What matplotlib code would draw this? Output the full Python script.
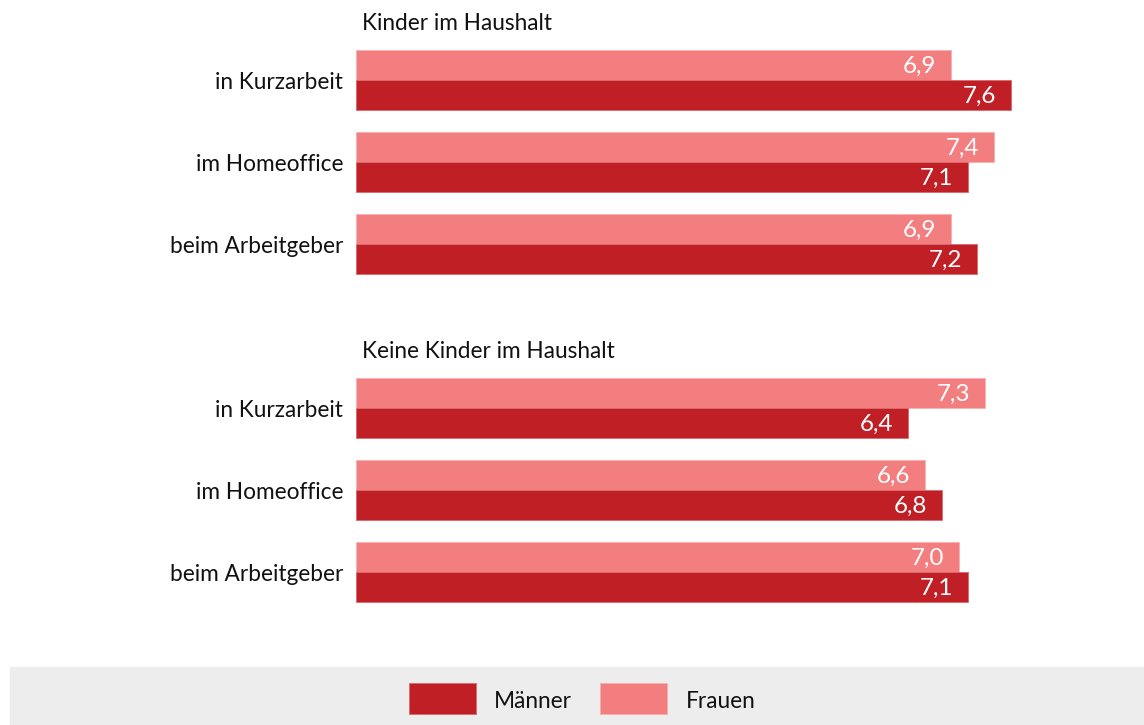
import matplotlib
matplotlib.use("Agg")
import matplotlib.pyplot as plt
from matplotlib.patches import Rectangle

plt.rcParams['font.family'] = ['Lato', 'DejaVu Sans']

groups = ["Kinder im Haushalt", "Keine Kinder im Haushalt"]
categories = ["in Kurzarbeit", "im Homeoffice", "beim Arbeitgeber"]
frauen = [[6.9, 7.4, 6.9], [7.3, 6.6, 7.0]]
maenner = [[7.6, 7.1, 7.2], [6.4, 6.8, 7.1]]

c_m = "#C01F26"
c_f = "#F37E80"

W, H = 1144, 725
fig = plt.figure(figsize=(W / 100, H / 100), dpi=100)

ax = fig.add_axes([356 / W, (H - 660) / H, (W - 356) / W, 660 / H])
px_per_unit = 86.2
ax.set_xlim(0, (W - 356) / px_per_unit)
ax.set_ylim((660 - 80) / 82, (0 - 80) / 82)
ax.axis("off")

fs_lab = 16.3
fs_val = 17.5
bh = 30 / 82
for gi, g in enumerate(groups):
    base = gi * 4
    ax.text(0.07, base - 0.69, g, fontsize=fs_lab, ha="left", va="center",
            color="#111111")
    for ci, cat in enumerate(categories):
        y = base + ci
        ax.barh(y - bh / 2, frauen[gi][ci], height=bh, color=c_f,
                edgecolor="#F8B0B1", linewidth=0.6)
        ax.barh(y + bh / 2, maenner[gi][ci], height=bh, color=c_m,
                edgecolor="#D86A6E", linewidth=0.6)
        ax.text(frauen[gi][ci] - 0.17, y - bh / 2 + 0.015,
                f"{frauen[gi][ci]:.1f}".replace(".", ","),
                color="white", fontsize=fs_val, ha="right", va="center")
        ax.text(maenner[gi][ci] - 0.17, y + bh / 2 + 0.015,
                f"{maenner[gi][ci]:.1f}".replace(".", ","),
                color="white", fontsize=fs_val, ha="right", va="center")
        ax.text(-0.15, y + 0.03, cat, fontsize=fs_lab, ha="right",
                va="center", color="#111111")

fig.patches.append(Rectangle((10 / W, 0), (W - 10) / W, (H - 667) / H,
                             transform=fig.transFigure, color="#EDEDED",
                             zorder=0))
fig.patches.append(Rectangle((409 / W, (H - 714) / H), 67 / W, 31 / H,
                             transform=fig.transFigure, facecolor=c_m,
                             edgecolor="#D86A6E", linewidth=0.6, zorder=1))
fig.patches.append(Rectangle((600 / W, (H - 714) / H), 67 / W, 31 / H,
                             transform=fig.transFigure, facecolor=c_f,
                             edgecolor="#F8B0B1", linewidth=0.6, zorder=1))
fig.text(494 / W, (H - 701) / H, "Männer", fontsize=fs_lab, ha="left",
         va="center", color="#111111")
fig.text(686 / W, (H - 701) / H, "Frauen", fontsize=fs_lab, ha="left",
         va="center", color="#111111")

fig.savefig("out.png", dpi=100)
